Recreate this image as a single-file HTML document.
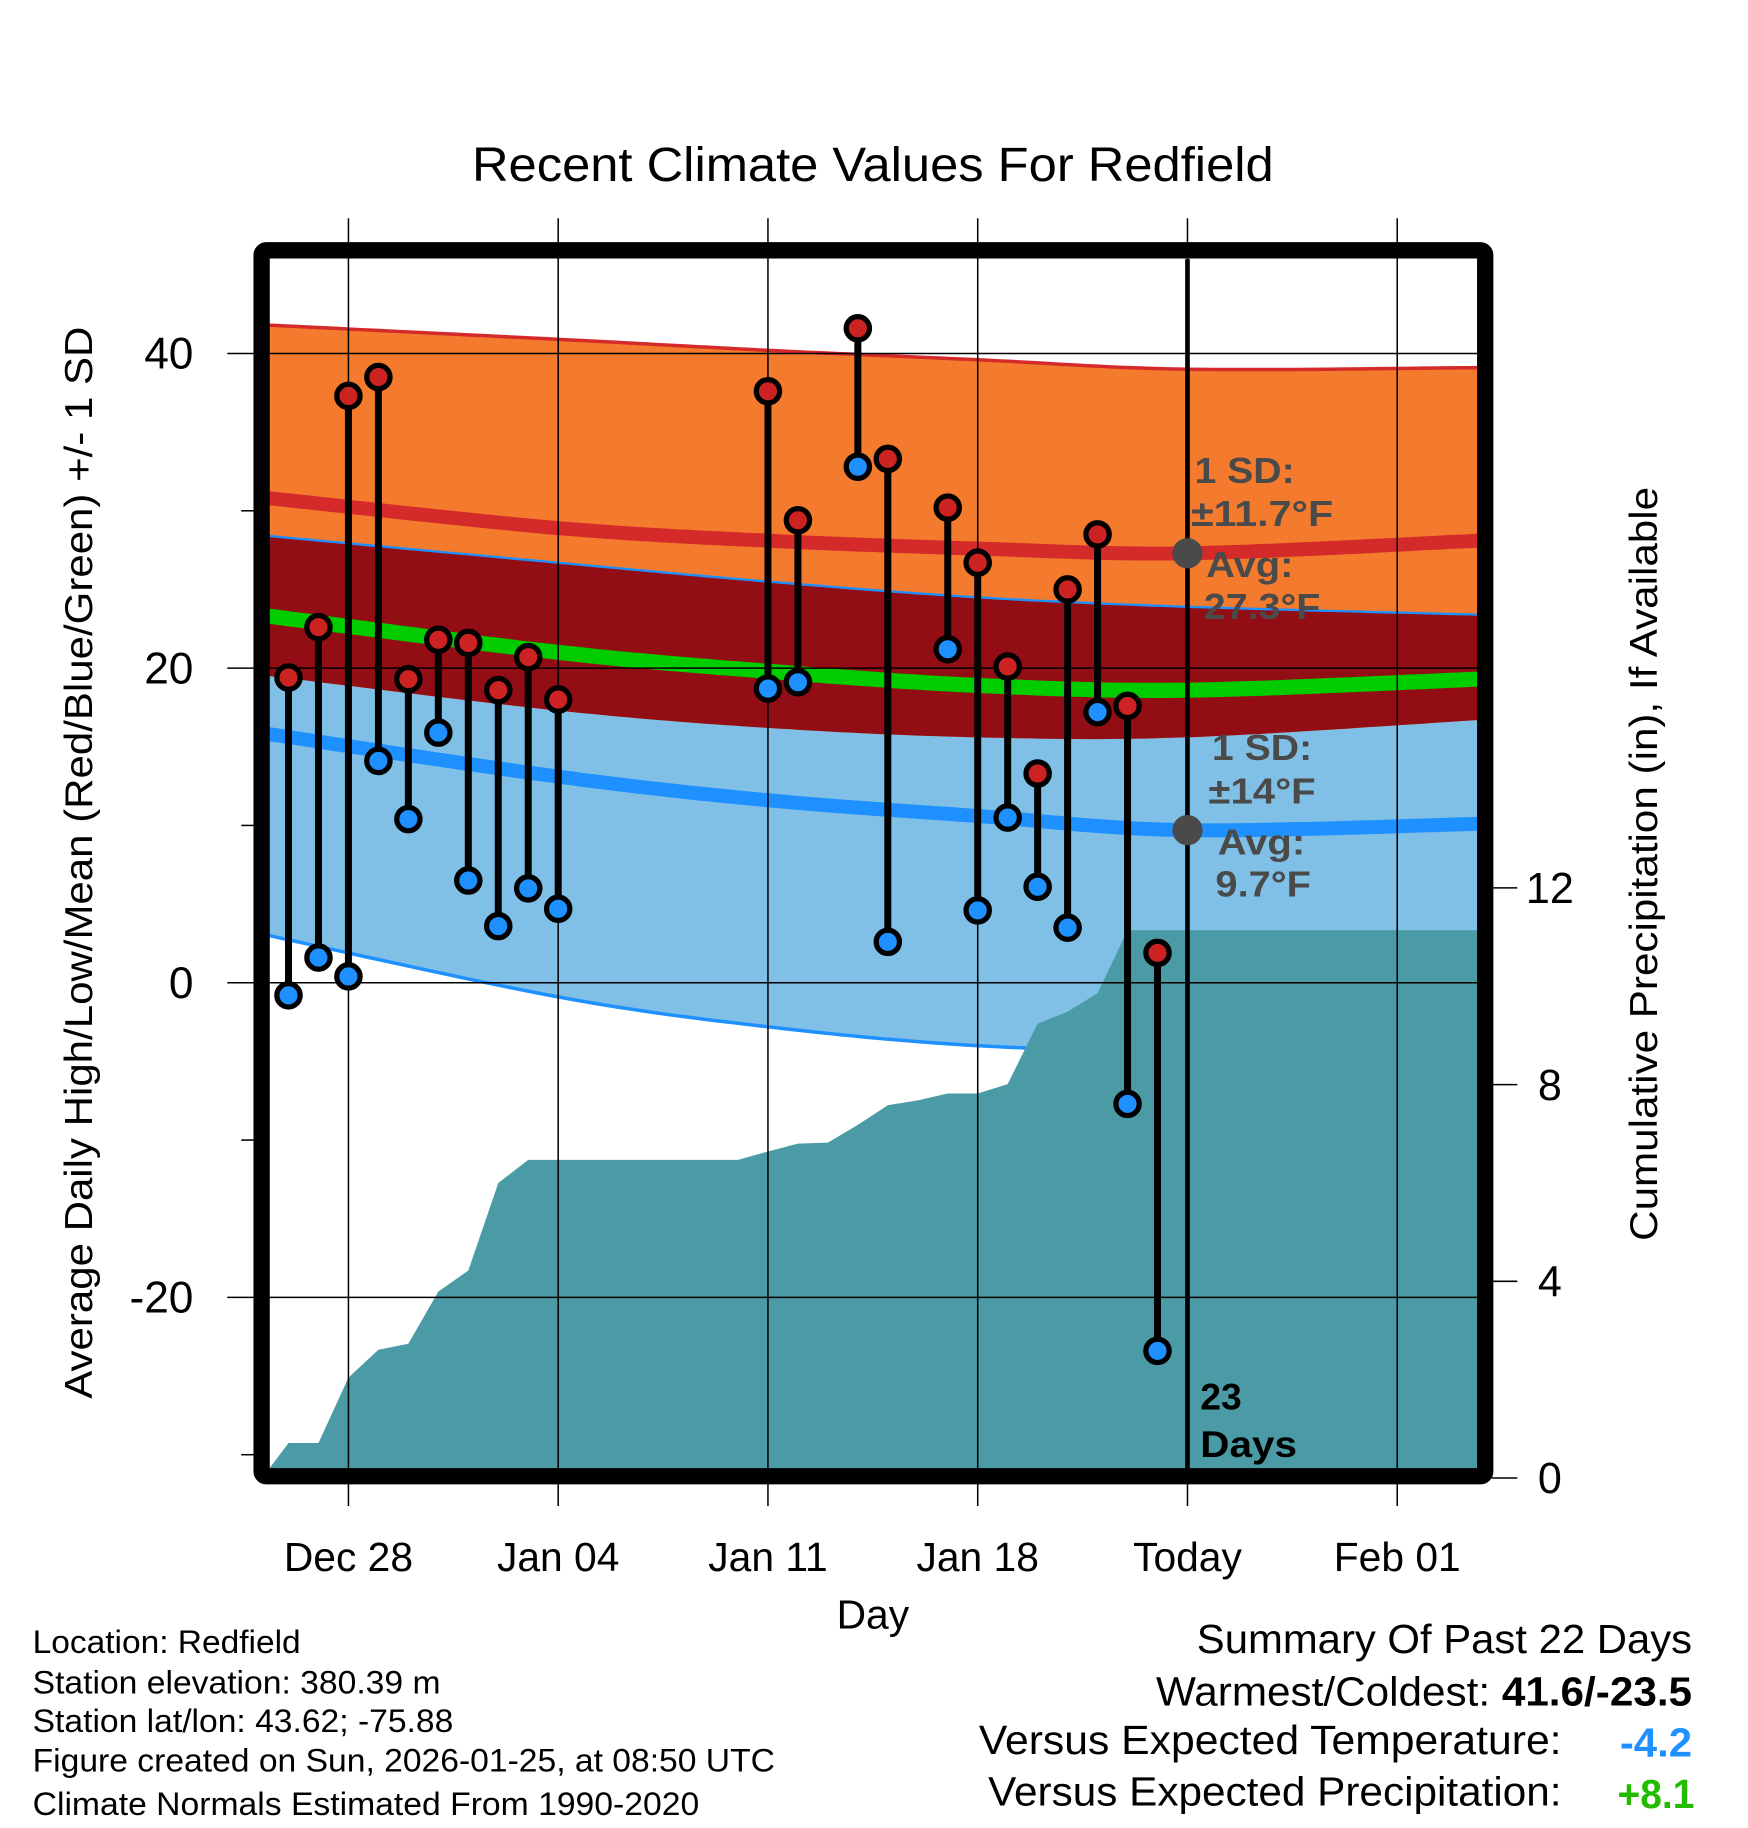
<!DOCTYPE html>
<html><head><meta charset="utf-8"><style>
html,body{margin:0;padding:0;background:#fff;}
svg{display:block;font-family:"Liberation Sans",Arial,sans-serif;}
</style></head><body>
<svg id="chart" width="1748" height="1828" viewBox="0 0 1500 1568" xmlns="http://www.w3.org/2000/svg">
<g id="bands"></g>
<g id="grid"></g>
<g id="lines"></g>
<g id="precip"></g>
<g id="grid2"></g>
<g id="obs"></g>
<g id="annot"></g>
<g id="frame"></g>
<g id="labels"></g>
</svg>
<script>
// ---- data ----
const obsDays = [-2,-1,0,1,2,3,4,5,6,7,14,15,17,18,20,21,22,23,24,25,26,27];
const highs = [19.4,22.6,37.3,38.5,19.3,21.8,21.6,18.6,20.7,18.0,37.6,29.4,41.6,33.3,30.2,26.7,20.1,13.3,25.0,28.5,17.6,1.9];
const lows = [-0.8,1.6,0.4,14.1,10.4,15.9,6.5,3.6,6.0,4.7,18.7,19.1,32.8,2.6,21.2,4.6,10.5,6.1,3.5,17.2,-7.7,-23.4];
const normDays = [-2.65,7,14,21,28,37.7];
const highPlusSD = [41.8,40.9,40.2,39.6,39.0,39.1];
const highMean = [30.8,28.9,28.1,27.6,27.3,28.1];
const highMinusSD = [19.5,17.3,16.2,15.6,15.6,16.7];
const meanMean = [23.3,21.0,19.8,18.9,18.6,19.3];
const lowPlusSD = [28.4,26.7,25.5,24.5,23.9,23.4];
const lowMean = [15.8,13.1,11.6,10.6,9.7,10.1];
const lowMinusSD = [3.0,-0.9,-2.8,-4.0,-4.3,-4.0];
const precipDays = [-2.65,-2,-1,0,1,2,3,4,5,6,7,8,9,10,11,12,13,14,15,16,17,18,19,20,21,22,23,24,25,26,27,37.7];
const precipVals = [0.19,0.71,0.71,2.04,2.61,2.73,3.79,4.22,6.0,6.47,6.47,6.47,6.47,6.47,6.47,6.47,6.47,6.64,6.80,6.82,7.18,7.58,7.68,7.82,7.82,8.01,9.24,9.48,9.86,11.14,11.14,11.14];
const xTickDays = [0,7,14,21,28,35];
const xTickLabels = ["Dec 28","Jan 04","Jan 11","Jan 18","Today","Feb 01"];
const yTicks = [40,20,0,-20];
const yMinor = [30,10,-10,-30];
const pTicks = [0,4,8,12];

// ---- scales ----
const X = d => 299 + d*180/7;
const Y = t => 843 - t*13.5;
const P = p => 1268 - p*42.2;
const L = 231, R = 1268, T = 222, B = 1260;
const NS = "http://www.w3.org/2000/svg";
function mk(tag, parent, attrs){const e=document.createElementNS(NS,tag);for(const k in attrs)e.setAttribute(k,attrs[k]);document.getElementById(parent).appendChild(e);return e;}
function smooth(xs, ys, fx, fy){
  const pts=[];
  for(let i=0;i<xs.length-1;i++){
    const p0=i>0?i-1:i,p3=i+2<xs.length?i+2:i+1;
    for(let s=0;s<20;s++){const t=s/20;
      const cr=(a,b,c,d)=>0.5*((2*b)+(-a+c)*t+(2*a-5*b+4*c-d)*t*t+(-a+3*b-3*c+d)*t*t*t);
      pts.push([fx(cr(xs[p0],xs[i],xs[i+1],xs[p3])),fy(cr(ys[p0],ys[i],ys[i+1],ys[p3]))]);}
  }
  pts.push([fx(xs[xs.length-1]),fy(ys[ys.length-1])]);
  return pts;
}
const ptsStr = a => a.map(p=>p[0].toFixed(1)+","+p[1].toFixed(1)).join(" ");
function band(upper, lower, fill, name){
  const u=smooth(normDays,upper,X,Y), l=smooth(normDays,lower,X,Y).reverse();
  const e=mk("polygon","bands",{points:ptsStr(u.concat(l)),fill:fill});
  
  
}
band(lowPlusSD, lowMinusSD, "#80c0e6", "low-sd-band");
band(highPlusSD, highMinusSD, "#f47b2d", "high-sd-band");
band(lowPlusSD, highMinusSD, "#930d15", "overlap-band");

// precip
{
  const pts=precipDays.map((d,i)=>[X(d),P(precipVals[i])]);
  pts.push([R,B]);pts.push([L,B]);
  const e=mk("polygon","precip",{points:ptsStr(pts),fill:"#4a9ba5"});
  
  
}
// grid
xTickDays.forEach(d=>{const e=mk("line","grid2",{x1:X(d),x2:X(d),y1:187,y2:1292,stroke:"#000","stroke-width":1.3});
  
  });
yTicks.forEach(t=>{const e=mk("line","grid2",{x1:195,x2:R,y1:Y(t),y2:Y(t),stroke:"#000","stroke-width":1.3});
  
  });
yMinor.forEach(t=>{const e=mk("line","grid2",{x1:207,x2:220,y1:Y(t),y2:Y(t),stroke:"#000","stroke-width":1.3});
  
  });
pTicks.forEach(p=>{const e=mk("line","grid2",{x1:1280,x2:1302,y1:P(p),y2:P(p),stroke:"#000","stroke-width":1.3});
  
  });
// lines
function line(vals, color, w, name){
  const e=mk("polyline","lines",{points:ptsStr(smooth(normDays,vals,X,Y)),fill:"none",stroke:color,"stroke-width":w});
  
  
}
line(highPlusSD,"#d42a2a",3,"high-plus-sd-line");
line(highMean,"#d42a2a",12,"high-mean-line");
line(lowPlusSD,"#1e90ff",2,"low-plus-sd-line");
line(meanMean,"#00cc00",13,"mean-line");
line(lowMean,"#1e90ff",12,"low-mean-line");
line(lowMinusSD,"#1e90ff",3,"low-minus-sd-line");
// today line
{const e=mk("line","obs",{x1:X(28),x2:X(28),y1:T,y2:B,stroke:"#000","stroke-width":4});
 
 }
// observations
obsDays.forEach((d,i)=>{
  const x=X(d);
  const s=mk("line","obs",{x1:x,x2:x,y1:Y(highs[i]),y2:Y(lows[i]),stroke:"#000","stroke-width":6});
  
  
  const h=mk("circle","obs",{cx:x,cy:Y(highs[i]),r:10,fill:"#cc2222",stroke:"#000","stroke-width":4.5});
  
  
  const l=mk("circle","obs",{cx:x,cy:Y(lows[i]),r:10,fill:"#1e90ff",stroke:"#000","stroke-width":4.5});
  
  
});
// annotations
function txt(parent,x,y,s,attrs,name,len){const e=mk("text",parent,Object.assign({x:x,y:y},attrs));e.textContent=s;
  if(len){e.setAttribute('textLength',len);e.setAttribute('lengthAdjust','spacingAndGlyphs');}
  
  return e;}
const an={fill:"#4a4a4a","font-size":31,"font-weight":"bold"};
{const c=mk("circle","annot",{cx:X(28),cy:Y(highMean[4]),r:13,fill:"#4a4a4a"});
 
 
 const c2=mk("circle","annot",{cx:X(28),cy:Y(lowMean[4]),r:13,fill:"#4a4a4a"});
 
 }
txt("annot",1025,414,"1 SD:",an,"high-sd-label",86);
txt("annot",1022,451,"±11.7°F",an,"high-sd-value",122);
txt("annot",1035,495,"Avg:",an,"high-avg-label",75);
txt("annot",1033,531,"27.3°F",an,"high-avg-value",100);
txt("annot",1040,652,"1 SD:",an,"low-sd-label",86);
txt("annot",1037,689,"±14°F",an,"low-sd-value",92);
txt("annot",1045,733,"Avg:",an,"low-avg-label",75);
txt("annot",1043,769,"9.7°F",an,"low-avg-value",82);
txt("annot",1030,1209,"23",{fill:"#000","font-size":32,"font-weight":"bold"},"days-count");
txt("annot",1030,1250,"Days",{fill:"#000","font-size":32,"font-weight":"bold"},"days-label",83);
// frame
{const e=mk("rect","frame",{x:224.5,y:214.5,width:1050,height:1052,fill:"none",stroke:"#000","stroke-width":14,rx:4});
 
 }
// labels
txt("labels",749,155,"Recent Climate Values For Redfield",{"font-size":41,"text-anchor":"middle"},"chart-title",688);
yTicks.forEach(t=>txt("labels",166,Y(t)+13,String(t),{"font-size":38,"text-anchor":"end"},"y-tick-label"));
pTicks.forEach(p=>txt("labels",1330,P(p)+13,String(p),{"font-size":37,"text-anchor":"middle"},"precip-tick-label"));
xTickDays.forEach((d,i)=>txt("labels",X(d),1348,xTickLabels[i],{"font-size":35,"text-anchor":"middle"},"x-tick-label"));
txt("labels",749,1397,"Day",{"font-size":35,"text-anchor":"middle"},"x-axis-title");
txt("labels",0,0,"Average Daily High/Low/Mean (Red/Blue/Green) +/- 1 SD",{"font-size":33,"text-anchor":"middle",transform:"translate(79,740) rotate(-90)"},"y-axis-title",920);
txt("labels",0,0,"Cumulative Precipitation (in), If Available",{"font-size":33,"text-anchor":"middle",transform:"translate(1422,741) rotate(-90)"},"precip-axis-title",647);
const foot=["Location: Redfield","Station elevation: 380.39 m","Station lat/lon: 43.62; -75.88","Figure created on Sun, 2026-01-25, at 08:50 UTC","Climate Normals Estimated From 1990-2020"];
const footLen=[230,350,361,637,572];
const fy=[1418,1453,1486,1520,1557];
foot.forEach((s,i)=>txt("labels",28,fy[i],s,{"font-size":28},"footer-line",footLen[i]));
txt("labels",1452,1418,"Summary Of Past 22 Days",{"font-size":35,"text-anchor":"end"},"summary-title",425);
{const e=txt("labels",1452,1463,"",{"font-size":35,"text-anchor":"end"},"warmest-coldest");
 e.innerHTML='Warmest/Coldest: <tspan font-weight="bold">41.6/-23.5</tspan>';
 e.setAttribute('textLength',460);e.setAttribute('lengthAdjust','spacingAndGlyphs');}
txt("labels",1340,1505,"Versus Expected Temperature:",{"font-size":35,"text-anchor":"end"},"temp-vs-expected-label",500);
txt("labels",1452,1507,"-4.2",{"font-size":35,"text-anchor":"end",fill:"#1e90ff","font-weight":"bold"},"temp-vs-expected-value",62);
txt("labels",1340,1549,"Versus Expected Precipitation:",{"font-size":35,"text-anchor":"end"},"precip-vs-expected-label",492);
txt("labels",1454,1551,"+8.1",{"font-size":35,"text-anchor":"end",fill:"#22bb00","font-weight":"bold"},"precip-vs-expected-value",66);
</script>
</body></html>
